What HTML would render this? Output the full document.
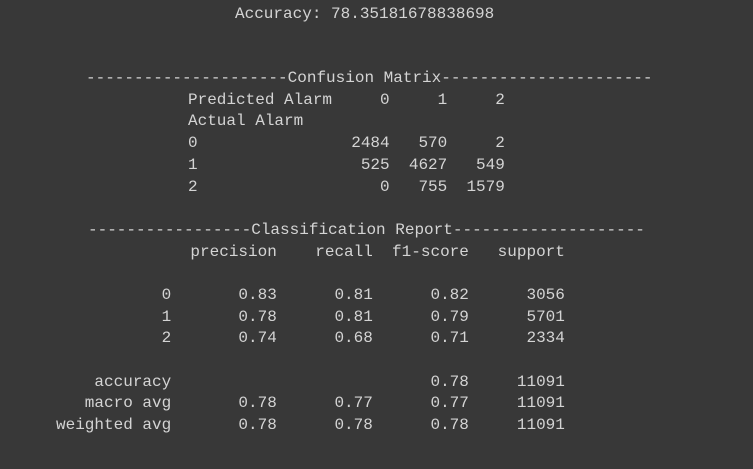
<!DOCTYPE html>
<html><head><meta charset="utf-8"><style>
body{margin:0;width:753px;height:469px;background:#383838;overflow:hidden;position:relative}
.l{position:absolute;white-space:pre;font-family:"Liberation Mono","DejaVu Sans Mono",monospace;font-size:16px;line-height:22px;color:#d4d4d4;height:22px}
</style></head><body>
<div class="l" style="left:235px;top:3px">Accuracy: 78.35181678838698</div>
<div class="l" style="left:86px;top:67px">---------------------Confusion Matrix----------------------</div>
<div class="l" style="left:188px;top:89px">Predicted Alarm     0     1     2</div>
<div class="l" style="left:188px;top:110px">Actual Alarm</div>
<div class="l" style="left:188px;top:132px">0                2484   570     2</div>
<div class="l" style="left:188px;top:154px">1                 525  4627   549</div>
<div class="l" style="left:188px;top:176px">2                   0   755  1579</div>
<div class="l" style="left:88px;top:219px">-----------------Classification Report--------------------</div>
<div class="l" style="left:56px;top:241px">              precision    recall  f1-score   support</div>
<div class="l" style="left:56px;top:284px">           0       0.83      0.81      0.82      3056</div>
<div class="l" style="left:56px;top:306px">           1       0.78      0.81      0.79      5701</div>
<div class="l" style="left:56px;top:327px">           2       0.74      0.68      0.71      2334</div>
<div class="l" style="left:56px;top:371px">    accuracy                           0.78     11091</div>
<div class="l" style="left:56px;top:392px">   macro avg       0.78      0.77      0.77     11091</div>
<div class="l" style="left:56px;top:414px">weighted avg       0.78      0.78      0.78     11091</div>
</body></html>
